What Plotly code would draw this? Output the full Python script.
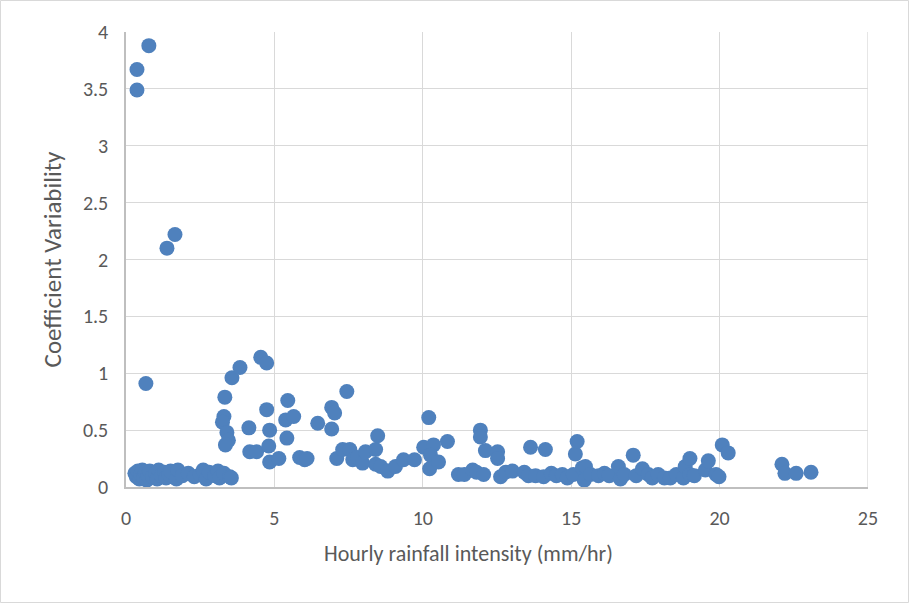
import plotly.graph_objects as go

# Hourly rainfall intensity (mm/hr)
x_vals = [
    0.37, 0.37, 0.77, 1.38, 1.65, 0.67,
    0.3, 0.35, 0.4, 0.45, 0.5, 0.55, 0.6, 0.65, 0.7, 0.75, 0.8, 0.9, 1.0, 1.05, 1.1, 1.2, 1.3, 1.35,
    1.45, 1.5, 1.7, 1.75, 1.9, 2.1, 2.3, 2.5, 2.6, 2.7, 2.8, 3.0, 3.1, 3.15, 3.3, 3.5, 3.55,
    3.33, 3.3, 3.25, 3.4, 3.45, 3.35, 3.57, 3.84, 4.54, 4.74, 4.14, 4.17, 4.4, 4.74, 4.84, 4.81, 4.84,
    5.15, 5.38, 5.45, 5.65, 5.42, 5.85, 6.02, 6.1, 6.46, 6.93, 7.03, 6.93, 7.1, 7.3, 7.44, 7.54,
    7.64, 7.8, 7.97, 8.07, 8.41, 8.48, 8.41, 8.58, 8.82, 9.08, 9.35, 9.72, 10.03, 10.2, 10.36,
    10.26, 10.23, 10.53, 10.83, 11.2, 11.4, 11.68, 11.81, 11.94, 11.94, 12.11, 12.05, 12.52,
    12.52, 12.62, 12.79, 13.02, 13.42, 13.63, 13.56, 13.8, 14.07, 14.13, 14.33, 14.5, 14.7,
    14.87, 15.07, 15.14, 15.2, 15.38, 15.48, 15.44, 15.65, 15.92, 16.12, 16.28, 16.59, 16.66,
    16.79, 17.09, 17.19, 17.4, 17.6, 17.73, 17.93, 18.14, 18.34, 18.54, 18.78, 18.84, 19.0,
    19.0, 19.15, 19.52, 19.62, 19.88, 19.98, 20.09, 20.29, 22.1, 22.2, 22.58, 23.08,
]
# Coefficient Variability
y_vals = [
    3.67, 3.49, 3.88, 2.10, 2.22, 0.91,
    0.12, 0.09, 0.14, 0.07, 0.11, 0.15, 0.08, 0.13, 0.06, 0.10, 0.14, 0.09, 0.12, 0.07, 0.15, 0.10,
    0.13, 0.08, 0.11, 0.14, 0.07, 0.15, 0.10, 0.12, 0.09, 0.11, 0.15, 0.07, 0.13, 0.10, 0.14, 0.08,
    0.12, 0.09, 0.08,
    0.79, 0.62, 0.57, 0.48, 0.41, 0.37, 0.96, 1.05, 1.14, 1.09, 0.52, 0.31, 0.31, 0.68, 0.50, 0.36,
    0.22, 0.25, 0.59, 0.76, 0.62, 0.43, 0.26, 0.24, 0.25, 0.56, 0.70, 0.65, 0.51, 0.25, 0.33, 0.84,
    0.33, 0.24, 0.26, 0.21, 0.31, 0.33, 0.45, 0.20, 0.18, 0.14, 0.18, 0.24, 0.24, 0.35, 0.61, 0.37,
    0.28, 0.16, 0.22, 0.40, 0.11, 0.11, 0.15, 0.13, 0.50, 0.44, 0.32, 0.11, 0.31, 0.25, 0.09, 0.13,
    0.14, 0.13, 0.35, 0.10, 0.10, 0.09, 0.33, 0.12, 0.10, 0.11, 0.08, 0.11, 0.29, 0.40, 0.17, 0.18,
    0.06, 0.11, 0.10, 0.12, 0.10, 0.18, 0.07, 0.11, 0.28, 0.10, 0.16, 0.11, 0.08, 0.11, 0.08, 0.08,
    0.11, 0.08, 0.18, 0.25, 0.11, 0.10, 0.15, 0.23, 0.11, 0.09, 0.37, 0.30, 0.20, 0.12, 0.12, 0.13,
]

x_ticks = [0, 5, 10, 15, 20, 25]
y_ticks = [0, 0.5, 1, 1.5, 2, 2.5, 3, 3.5, 4]
x_title = "Hourly rainfall intensity (mm/hr)"
y_title = "Coefficient Variability"

font_family = "Carlito, Calibri, Lato, sans-serif"
grey = "#595959"

fig = go.Figure(go.Scatter(
    x=x_vals, y=y_vals, mode="markers",
    marker=dict(size=15, color="#4F81BD", line=dict(width=0)),
    showlegend=False,
))

W, H = 909, 603
ml, mr, mt, mb = 126, 41, 32, 116
pw, ph = W - ml - mr, H - mt - mb

fig.update_layout(
    width=W, height=H,
    margin=dict(l=ml, r=mr, t=mt, b=mb),
    paper_bgcolor="white", plot_bgcolor="white",
    font=dict(family=font_family, color=grey, size=20),
    xaxis=dict(
        range=[0, 25], tickvals=x_ticks, ticktext=[str(v) for v in x_ticks],
        showgrid=True, gridcolor="#D9D9D9", gridwidth=1.3,
        showline=True, linecolor="#BFBFBF", linewidth=1.5,
        zeroline=False, ticks="", ticklabelstandoff=12,
        tickfont=dict(size=20, color=grey),
    ),
    yaxis=dict(
        range=[0, 4], tickvals=y_ticks, ticktext=[("%g" % v) for v in y_ticks],
        showgrid=True, gridcolor="#D9D9D9", gridwidth=1.3,
        showline=True, linecolor="#BFBFBF", linewidth=1.5,
        zeroline=False, ticks="", ticklabelstandoff=12,
        tickfont=dict(size=20, color=grey),
        title=dict(text=y_title, font=dict(size=25, color=grey), standoff=14),
    ),
    annotations=[
        dict(text=x_title, xref="paper", yref="paper",
             x=(468 - ml) / pw, y=-(553 - (H - mb)) / ph,
             xanchor="center", yanchor="middle", showarrow=False,
             font=dict(size=22, color=grey)),
    ],
    shapes=[
        dict(type="line", xref="x", yref="paper", x0=25, x1=25, y0=0, y1=1,
             line=dict(color="#D9D9D9", width=1.3), layer="below"),
        dict(type="rect", xref="paper", yref="paper",
             x0=(-ml + 0.5) / pw, x1=(W - ml - 0.5) / pw,
             y0=(-mb + 0.5) / ph, y1=(H - mb - 0.5) / ph,
             line=dict(color="#D9D9D9", width=1)),
    ],
)

fig.write_html("out.html", config={"displayModeBar": False},
               post_script="document.body.style.margin='0';document.body.style.overflow='hidden';")
